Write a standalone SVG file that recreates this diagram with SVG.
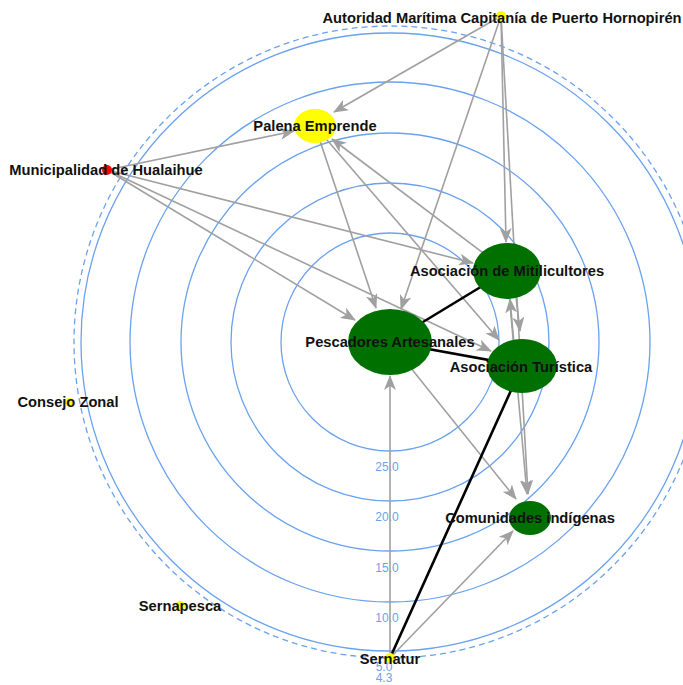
<svg xmlns="http://www.w3.org/2000/svg" width="683" height="685" viewBox="0 0 683 685">
<style>
.ring{fill:none;stroke:#6aa2ef;stroke-width:1.3}
.ringd{fill:none;stroke:#6aa2ef;stroke-width:1.3;stroke-dasharray:6 4}
.scale{font-family:"Liberation Sans",Arial,sans-serif;font-size:12px;fill:#6aa2ef;text-anchor:middle}
.e{stroke:#a0a0a0;stroke-width:1.6;fill:none;marker-end:url(#arr)}
.s{stroke:#000;stroke-width:2.6;fill:none}
.lbl{font-family:"Liberation Sans",Arial,sans-serif;font-size:14.7px;font-weight:bold;fill:#111;text-anchor:middle}
.g{fill:#007000}
.y{fill:#ffff00}
.r{fill:#ff0000}
</style>
<defs>
<marker id="arr" markerUnits="userSpaceOnUse" markerWidth="15" markerHeight="12" viewBox="0 0 15 12" refX="14" refY="6" orient="auto">
<path d="M0,0 L15,6 L0,12 L4,6 Z" fill="#a0a0a0"/>
</marker>
</defs>
<rect width="683" height="685" fill="#fff"/>
<g id="rings">
<circle class="ringd" cx="390" cy="342" r="316"/>
<circle class="ring" cx="390" cy="342" r="309"/>
<circle class="ring" cx="390" cy="342" r="260"/>
<circle class="ring" cx="390" cy="342" r="209"/>
<circle class="ring" cx="390" cy="342" r="159"/>
<circle class="ring" cx="390" cy="342" r="109"/>
<text class="scale" x="387" y="471">25.0</text>
<text class="scale" x="387" y="521">20.0</text>
<text class="scale" x="387" y="572">15.0</text>
<text class="scale" x="387" y="622">10.0</text>
<text class="scale" x="384" y="671">5.0</text>
<text class="scale" x="384" y="682">4.3</text>
</g>
<g id="connectors">
<line class="e" x1="501" y1="16" x2="334" y2="112"/>
<line class="e" x1="501" y1="16" x2="401" y2="309"/>
<line class="e" x1="501" y1="16" x2="506" y2="242"/>
<line class="e" x1="501" y1="16" x2="528" y2="494"/>
<line class="e" x1="107" y1="170" x2="294" y2="131"/>
<line class="e" x1="107" y1="170" x2="473" y2="263"/>
<line class="e" x1="107" y1="170" x2="491" y2="351"/>
<line class="e" x1="107" y1="170" x2="355" y2="320"/>
<line class="e" x1="315" y1="126" x2="376" y2="308"/>
<line class="e" x1="315" y1="126" x2="499" y2="340"/>
<line class="e" x1="507" y1="271" x2="332" y2="139"/>
<line class="e" x1="513" y1="271" x2="520" y2="331"/>
<line class="e" x1="516" y1="366" x2="510" y2="299"/>
<line class="e" x1="507" y1="271" x2="527" y2="494"/>
<line class="e" x1="390" y1="342" x2="516" y2="499"/>
<line class="e" x1="390" y1="658" x2="390" y2="376"/>
<line class="e" x1="390" y1="658" x2="513" y2="531"/>
<line class="s" x1="390" y1="342" x2="507" y2="271"/>
<line class="s" x1="390" y1="342" x2="522" y2="366"/>
<line class="s" x1="390" y1="658" x2="522" y2="366"/>
</g>
<g id="node-autoridad"><circle class="y" cx="501" cy="16" r="5"/><text class="lbl" x="502" y="23">Autoridad Marítima Capitanía de Puerto Hornopirén</text></g>
<g id="node-palena"><ellipse class="y" cx="315" cy="126" rx="21" ry="17"/><text class="lbl" x="315" y="131">Palena Emprende</text></g>
<g id="node-municipalidad"><circle class="r" cx="107" cy="170" r="5"/><text class="lbl" x="106" y="175">Municipalidad de Hualaihue</text></g>
<g id="node-mitilicultores"><ellipse class="g" cx="507" cy="271" rx="34" ry="28"/><text class="lbl" x="507" y="276">Asociación de Mitilicultores</text></g>
<g id="node-pescadores"><ellipse class="g" cx="390" cy="342" rx="42" ry="33"/><text class="lbl" x="390" y="347">Pescadores Artesanales</text></g>
<g id="node-turistica"><ellipse class="g" cx="522" cy="366" rx="35" ry="27"/><text class="lbl" x="521" y="372">Asociación Turística</text></g>
<g id="node-comunidades"><ellipse class="g" cx="530" cy="518" rx="21" ry="17"/><text class="lbl" x="530" y="523">Comunidades indígenas</text></g>
<g id="node-consejo"><circle class="y" cx="69" cy="402" r="4"/><text class="lbl" x="68" y="407">Consejo Zonal</text></g>
<g id="node-sernapesca"><circle class="y" cx="180" cy="606" r="5"/><text class="lbl" x="180" y="611">Sernapesca</text></g>
<g id="node-sernatur"><circle class="y" cx="390" cy="658" r="5"/><text class="lbl" x="390" y="664">Sernatur</text></g>
</svg>
